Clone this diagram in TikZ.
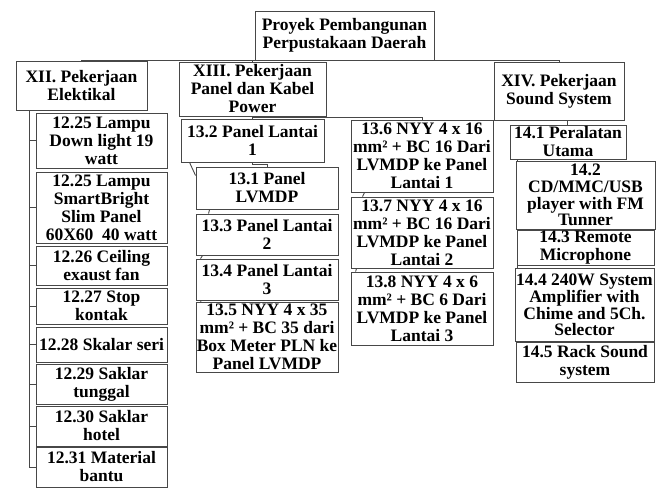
\documentclass[tikz,border=0pt]{standalone}
\usepackage{fontspec}
\setmainfont{Liberation Serif}
\begin{document}
\begin{tikzpicture}[x=1pt,y=-1pt,
  box/.style={draw=black!72, line width=0.9pt, fill=white, inner sep=0pt, align=center,
    font=\fontsize{17.5}{18}\selectfont\bfseries, text=black},
  tight/.style={font=\fontsize{17.5}{16.8}\selectfont\bfseries},
  conn/.style={draw=black!72, line width=0.9pt}]
\useasboundingbox (0,0) rectangle (670,488);
% top level
\node[box, minimum width=179pt, minimum height=49pt] (root) at (344.5,35.5) {Proyek Pembangunan\\Perpustakaan Daerah};
\node[box, minimum width=131pt, minimum height=49pt] (xii) at (81.5,85.5) {XII. Pekerjaan\\Elektikal};
\node[box, minimum width=147pt, minimum height=54pt] (xiii) at (252.5,89) {XIII. Pekerjaan\\Panel dan Kabel\\Power};
\node[box, minimum width=130pt, minimum height=58pt] (xiv) at (559,91) {XIV. Pekerjaan\\Sound System};
% XII children
\node[box, minimum width=131pt, minimum height=55pt] (a1) at (101.5,140.5) {12.25 Lampu\\Down light 19\\watt};
\node[box, minimum width=131pt, minimum height=71pt] (a2) at (101.5,207.5) {12.25 Lampu\\SmartBright\\Slim Panel\\60X60\ \ 40 watt};
\node[box, minimum width=131pt, minimum height=39pt] (a3) at (101.5,265.5) {12.26 Ceiling\\exaust fan};
\node[box, minimum width=131pt, minimum height=36pt] (a4) at (101.5,306) {12.27 Stop\\kontak};
\node[box, minimum width=131pt, minimum height=35pt] (a5) at (101.5,344.5) {12.28 Skalar seri};
\node[box, minimum width=131pt, minimum height=40pt] (a6) at (101.5,384) {12.29 Saklar\\tunggal};
\node[box, minimum width=131pt, minimum height=40pt] (a7) at (101.5,426) {12.30 Saklar\\hotel};
\node[box, minimum width=131pt, minimum height=40pt] (a8) at (101.5,467) {12.31 Material\\bantu};
% XIII children
\node[box, minimum width=143pt, minimum height=43pt] (b2) at (252.5,140.5) {13.2 Panel Lantai\\1};
\node[box, minimum width=142pt, minimum height=42pt] (b1) at (267,188) {13.1 Panel\\LVMDP};
\node[box, minimum width=142pt, minimum height=41pt] (b3) at (267,234.5) {13.3 Panel Lantai\\2};
\node[box, minimum width=142pt, minimum height=41pt] (b4) at (267,279.5) {13.4 Panel Lantai\\3};
\node[box, minimum width=142pt, minimum height=70pt] (b5) at (267,337) {13.5 NYY 4 x 35\\mm² + BC 35 dari\\Box Meter PLN ke\\Panel LVMDP};
\node[box, minimum width=142pt, minimum height=72pt] (c6) at (422,156) {13.6 NYY 4 x 16\\mm² + BC 16 Dari\\LVMDP ke Panel\\Lantai 1};
\node[box, minimum width=142pt, minimum height=71pt] (c7) at (422,232.5) {13.7 NYY 4 x 16\\mm² + BC 16 Dari\\LVMDP ke Panel\\Lantai 2};
\node[box, minimum width=142pt, minimum height=73pt] (c8) at (422,308.5) {13.8 NYY 4 x 6\\mm² + BC 6 Dari\\LVMDP ke Panel\\Lantai 3};
% XIV children
\node[box, minimum width=116pt, minimum height=34pt] (d1) at (568,142) {14.1 Peralatan\\Utama};
\node[box, tight, minimum width=139pt, minimum height=68pt] (d2) at (585.5,195) {14.2\\CD/MMC/USB\\player with FM\\Tunner};
\node[box, minimum width=137pt, minimum height=35pt] (d3) at (585.5,247.5) {14.3 Remote\\Microphone};
\node[box, tight, minimum width=139pt, minimum height=73pt] (d4) at (584.5,305) {14.4 240W System\\Amplifier with\\Chime and 5Ch.\\Selector};
\node[box, minimum width=138pt, minimum height=40pt] (d5) at (585,362) {14.5 Rack Sound\\system};
% connectors
\draw[conn] (xii.north) -- (xii.north |- root.south) -- (xiv.north |- root.south) -- (xiv.north);
\draw[conn] (xiii.north) -- (xiii.north |- root.south);
\coordinate (xl) at (29,110);
\draw[conn] (xl) |- (a8.west);
\foreach \n in {a1,a2,a3,a4,a5,a6,a7} {\draw[conn] (\n.west) -- (\n.west -| xl);}
\draw[conn] (xiii.south) -- (b2.north);
\draw[conn] ([yshift=-1pt]xiii.south) -| (c6.north);
\draw[conn] (b2.south) -- ++(0,1.5) -| (b1.north);
\draw[conn] ([xshift=9pt]b2.south west) -- ([yshift=-9pt]b1.north west);
\draw[conn] ([xshift=14pt]b1.south west) -- ([xshift=13pt]b3.north west);
\draw[conn] ([xshift=7pt]b3.south west) -- ([xshift=5pt]b4.north west);
\draw[conn] ([xshift=6pt]b4.south west) -- ([xshift=5pt]b5.north west);
\draw[conn] ([xshift=14pt]c6.south west) -- ([xshift=12pt]c7.north west);
\draw[conn] ([xshift=6pt]c7.south west) -- ([xshift=5pt]c8.north west);
\draw[conn] ([xshift=3pt]xiv.south) -- ++(5,0) -- ([xshift=-1pt]d1.north);
\draw[conn] ([xshift=8pt]d1.south west) -- ([xshift=2pt]d2.north west);
\draw[conn] ([xshift=2pt]d2.south west) -- ([xshift=1pt]d3.north west);
\draw[conn] ([xshift=1pt]d3.south west) -- ([xshift=3pt]d4.north west);
\end{tikzpicture}
\end{document}
